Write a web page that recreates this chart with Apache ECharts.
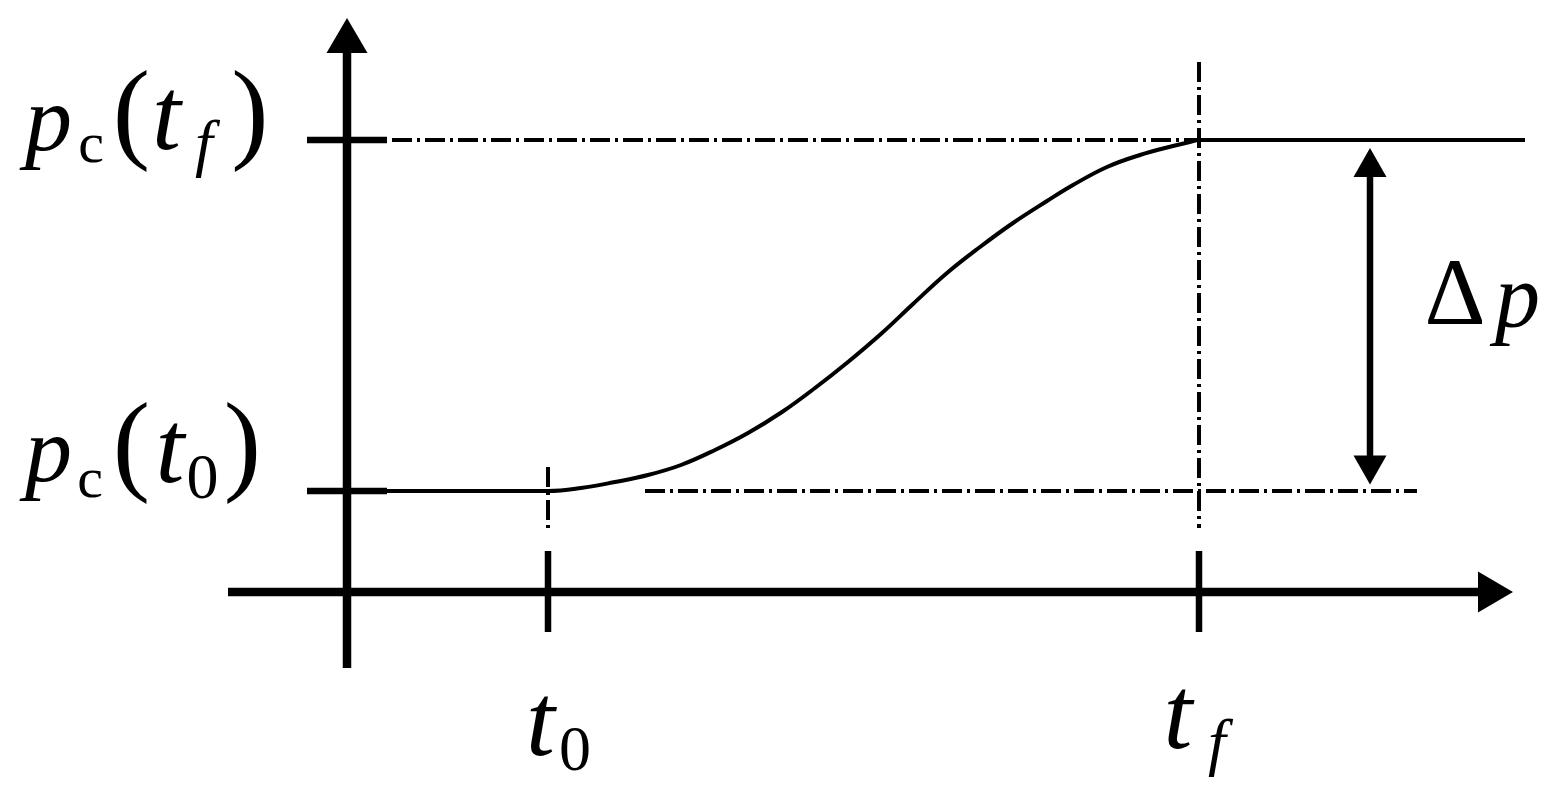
<!DOCTYPE html>
<html>
<head>
<meta charset="utf-8">
<script src="https://cdn.jsdelivr.net/npm/echarts@6/dist/echarts.min.js"></script>
<style>
  html, body { margin: 0; padding: 0; background: #fff; }
  #chart { width: 1558px; height: 799px; }
</style>
</head>
<body>
<div id="chart"></div>
<script>
// 示意图坐标: x = t, y = p
const t0 = 2.01;
const tf = 8.52;
const p0 = 1.01;
const pf = 4.52;

// p_c(t) 曲线读点
const curveT = [0, 2.01, 2.34, 2.68, 3.01, 3.34, 3.68, 4.01, 4.35, 4.68, 5.01, 5.35, 5.66, 6.00, 6.33, 6.66, 7.00, 7.26, 7.60, 7.93, 8.26, 8.43, 8.52, 11.78];
const curveP = [1.01, 1.01, 1.04, 1.10, 1.17, 1.27, 1.42, 1.59, 1.80, 2.04, 2.30, 2.59, 2.88, 3.19, 3.45, 3.69, 3.91, 4.07, 4.25, 4.37, 4.46, 4.50, 4.52, 4.52];

// 坐标轴 (竖, 横)
const axisLines = [
  [[0, -0.76], [0, 5.52]],
  [[-1.19, 0], [11.43, 0]]
];
// 刻度
const tickLines = [
  [[-0.40, p0], [0.40, p0]],
  [[-0.40, pf], [0.40, pf]],
  [[t0, 0.41], [t0, -0.40]],
  [[tf, 0.41], [tf, -0.40]]
];
// 点划线
const guideLines = [
  [[0.45, pf], [11.60, pf]],
  [[2.98, p0], [10.70, p0]],
  [[t0, 1.25], [t0, 0.59]],
  [[tf, 5.30], [tf, 0.64]]
];
// Δp 双箭头
const deltaShaft = [[10.23, 4.22], [10.23, 1.27]];
// 箭头: [x, y, 旋转]
const axisHeads = [[0, 5.565, 0], [11.485, 0, -90]];
const deltaHeads = [[10.23, 4.295, 0], [10.23, 1.22, 180]];

// 文字, 逐个字符: [文字, 样式, x, y]
const labelPcTf = [['p', 'p', -2.985, 4.67], ['c', 'c', -2.56, 4.451], ['(', 'par', -2.155, 4.73], ['t', 't', -1.805, 4.703], ['f', 'subi', -1.43, 4.451], [')', 'par', -0.97, 4.73]];
const labelPcT0 = [['p', 'p', -2.985, 1.36], ['c', 'c', -2.57, 1.101], ['(', 'par', -2.155, 1.41], ['t', 't', -1.77, 1.373], ['0', 'sub', -1.445, 1.111], [')', 'par', -1.045, 1.41]];
const labelT0 = [['t', 't', 1.935, -1.357], ['0', 'sub', 2.28, -1.609]];
const labelTf = [['t', 't', 8.31, -1.287], ['f', 'subi', 8.7, -1.539]];
const labelDp = [['Δ', 'delta', 11.08, 2.934], ['p', 'dp', 11.705, 2.882]];

const font = 'Liberation Serif';
const glyphStyle = {
  p: { fontSize: 94, fontStyle: 'italic' },
  t: { fontSize: 104, fontStyle: 'italic' },
  par: { fontSize: 112, fontStyle: 'normal' },
  c: { fontSize: 58, fontStyle: 'normal' },
  sub: { fontSize: 64, fontStyle: 'normal' },
  subi: { fontSize: 64, fontStyle: 'italic' },
  delta: { fontSize: 95, fontStyle: 'normal' },
  dp: { fontSize: 90, fontStyle: 'italic' }
};

function seg(data, width, type) {
  return {
    type: 'line',
    data: data,
    symbol: 'none',
    silent: true,
    lineStyle: { color: '#000', width: width, type: type || 'solid', cap: 'butt' }
  };
}

const myChart = echarts.init(document.getElementById('chart'));
const series = [];
guideLines.forEach((g) => series.push(seg(g, 4, [20, 5, 3, 5])));
series.push(Object.assign(seg(curveT.map((t, k) => [t, curveP[k]]), 4), { smooth: 0.4 }));
tickLines.forEach((g) => series.push(seg(g, 6.5)));
axisLines.forEach((g) => series.push(seg(g, 8.5)));
series.push(seg(deltaShaft, 6.5));
series.push({
  type: 'scatter',
  silent: true,
  symbol: 'triangle',
  itemStyle: { color: '#000', opacity: 1 },
  data: axisHeads.map((h) => ({ value: [h[0], h[1]], symbolSize: [41, 35], symbolRotate: h[2] }))
    .concat(deltaHeads.map((h) => ({ value: [h[0], h[1]], symbolSize: [33, 29], symbolRotate: h[2] })))
});

const glyphs = [].concat(labelPcTf, labelPcT0, labelT0, labelTf, labelDp);
series.push({
  type: 'scatter',
  silent: true,
  symbolSize: 1,
  itemStyle: { color: 'rgba(0,0,0,0)', opacity: 1 },
  label: {
    show: true,
    position: 'inside',
    align: 'center',
    verticalAlign: 'middle',
    color: '#000',
    fontFamily: font
  },
  data: glyphs.map((g) => ({
    value: [g[2], g[3]],
    label: Object.assign({ formatter: g[0] }, glyphStyle[g[1]])
  }))
});

const option = {
  animation: false,
  grid: { left: 0, right: 0, top: 0, bottom: 0 },
  xAxis: { type: 'value', min: -3.47, max: 12.11, show: false },
  yAxis: { type: 'value', min: -2.07, max: 5.92, show: false },
  series: series
};
myChart.setOption(option);
</script>
</body>
</html>
